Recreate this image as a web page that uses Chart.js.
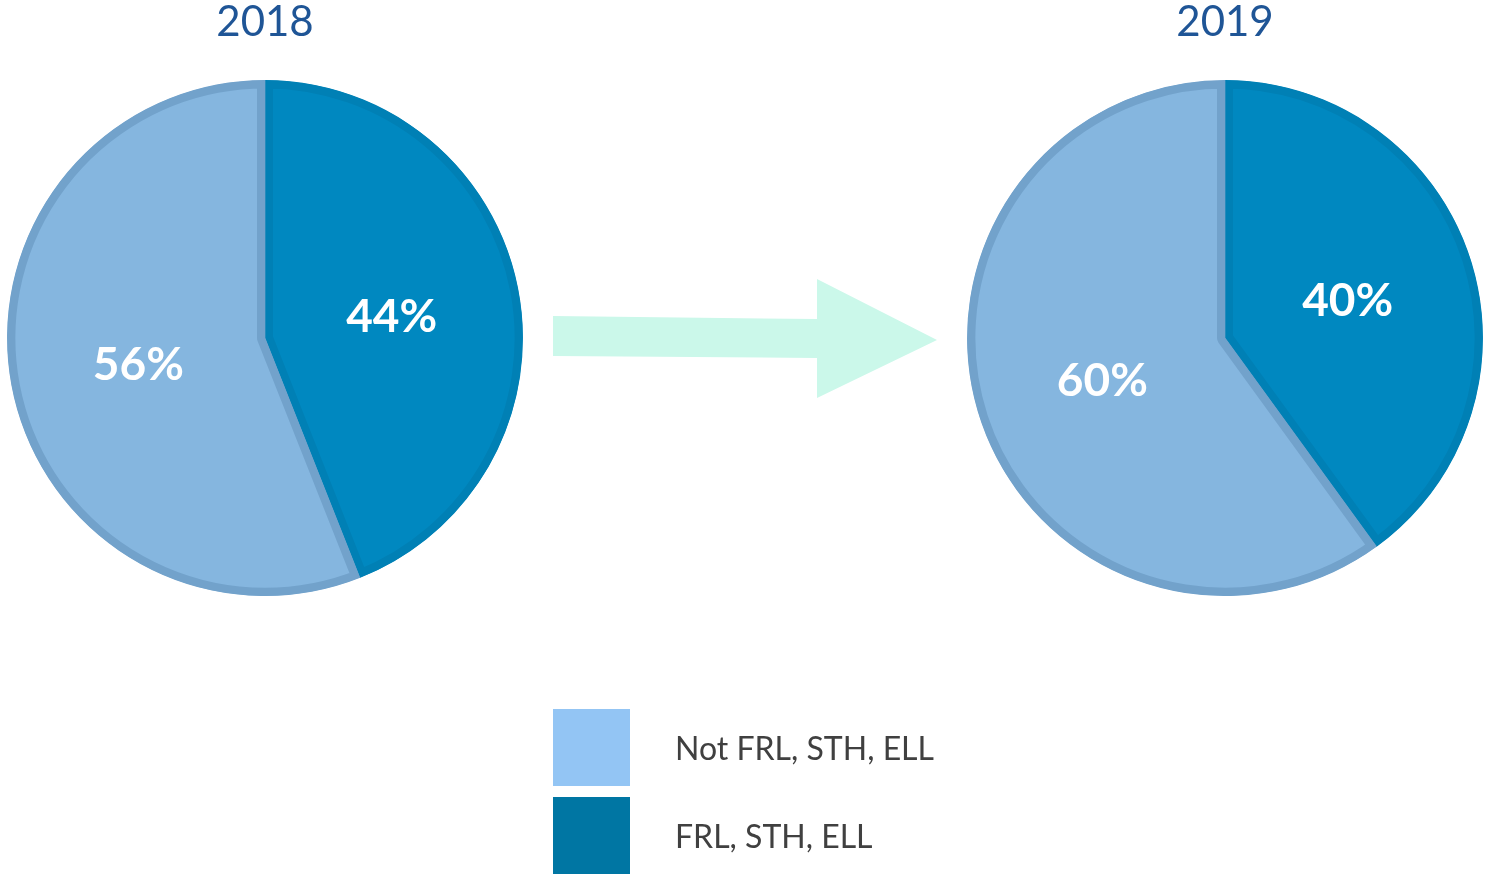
<!DOCTYPE html>
<html lang="en">
<head>
    <meta charset="UTF-8">
    <title>FRL, STH, ELL share</title>
    <script src="https://cdn.jsdelivr.net/npm/chart.js"></script>
    <style>
        body { margin: 0; background: #ffffff; width: 1485px; height: 876px; position: relative; overflow: hidden; font-family: Lato, "Open Sans", sans-serif; }
        .pie { position: absolute; top: 0; width: 516px; height: 596px; }
        #arrow { position: absolute; left: 0; top: 0; }
        .legend-item { position: absolute; left: 553px; height: 77px; }
        .legend-item .box { position: absolute; left: 0; top: 0; width: 77px; height: 77px; }
        .legend-item .txt { position: absolute; left: 122px; top: 0; line-height: 77px; font-size: 32px; color: #404040; white-space: nowrap; }
    </style>
</head>
<body>
    <div class="pie" style="left: 7px;"><canvas id="pie2018"></canvas></div>
    <div class="pie" style="left: 967px;"><canvas id="pie2019"></canvas></div>

    <!-- seta do meio -->
    <svg id="arrow" width="1485" height="876">
        <polygon points="553,316 817,319 817,279 937,340 817,398 817,358 553,356" fill="#cbf8ea"></polygon>
    </svg>

    <div id="legenda"></div>

<script>
    // dados
    const anos = ['2018', '2019'];
    const categorias = ['FRL, STH, ELL', 'Not FRL, STH, ELL'];
    const valores2018 = [44, 56];
    const valores2019 = [40, 60];

    const coresFatia = ['#0088c0', '#85b6df'];
    const coresBorda = ['#0080b5', '#72a2cb'];
    const coresLegenda = ['#0076a3', '#93c5f4'];

    // escreve o % no meio de cada fatia
    const rotulos = {
        id: 'rotulos',
        afterDatasetsDraw(chart) {
            const ctx = chart.ctx;
            const meta = chart.getDatasetMeta(0);
            const dados = chart.data.datasets[0].data;
            ctx.save();
            ctx.fillStyle = '#ffffff';
            ctx.font = 'bold 46px Lato, "Open Sans", sans-serif';
            ctx.textAlign = 'center';
            ctx.textBaseline = 'middle';
            meta.data.forEach(function (arco, i) {
                const pos = arco.tooltipPosition();
                ctx.fillText(dados[i] + '%', pos.x, pos.y + 3);
            });
            ctx.restore();
        }
    };

    function plotarPizza(idCanvas, ano, valores) {
        return new Chart(document.getElementById(idCanvas), {
            type: 'pie',
            data: {
                labels: categorias,
                datasets: [{
                    data: valores,
                    backgroundColor: coresFatia,
                    borderColor: coresBorda,
                    borderWidth: 8,
                    borderAlign: 'inner'
                }]
            },
            options: {
                responsive: true,
                maintainAspectRatio: false,
                animation: false,
                layout: { padding: 0 },
                plugins: {
                    legend: { display: false },
                    tooltip: { enabled: false },
                    title: {
                        display: true,
                        text: ano,
                        color: '#1f5596',
                        font: { family: 'Lato, "Open Sans", sans-serif', size: 42, weight: 'normal', lineHeight: 1.05 },
                        padding: { top: 0, bottom: 36 }
                    }
                }
            },
            plugins: [rotulos]
        });
    }

    plotarPizza('pie2018', anos[0], valores2018);
    plotarPizza('pie2019', anos[1], valores2019);

    // legenda (Not FRL primeiro)
    let legenda = document.getElementById('legenda');
    let ordem = [1, 0];
    let topos = [709, 797];
    for (let i = 0; i < ordem.length; i++) {
        let item = document.createElement('div');
        item.className = 'legend-item';
        item.style.top = topos[i] + 'px';
        item.innerHTML = `<div class="box" style="background:${coresLegenda[ordem[i]]}"></div><div class="txt">${categorias[ordem[i]]}</div>`;
        legenda.appendChild(item);
    }
</script>
</body>
</html>
